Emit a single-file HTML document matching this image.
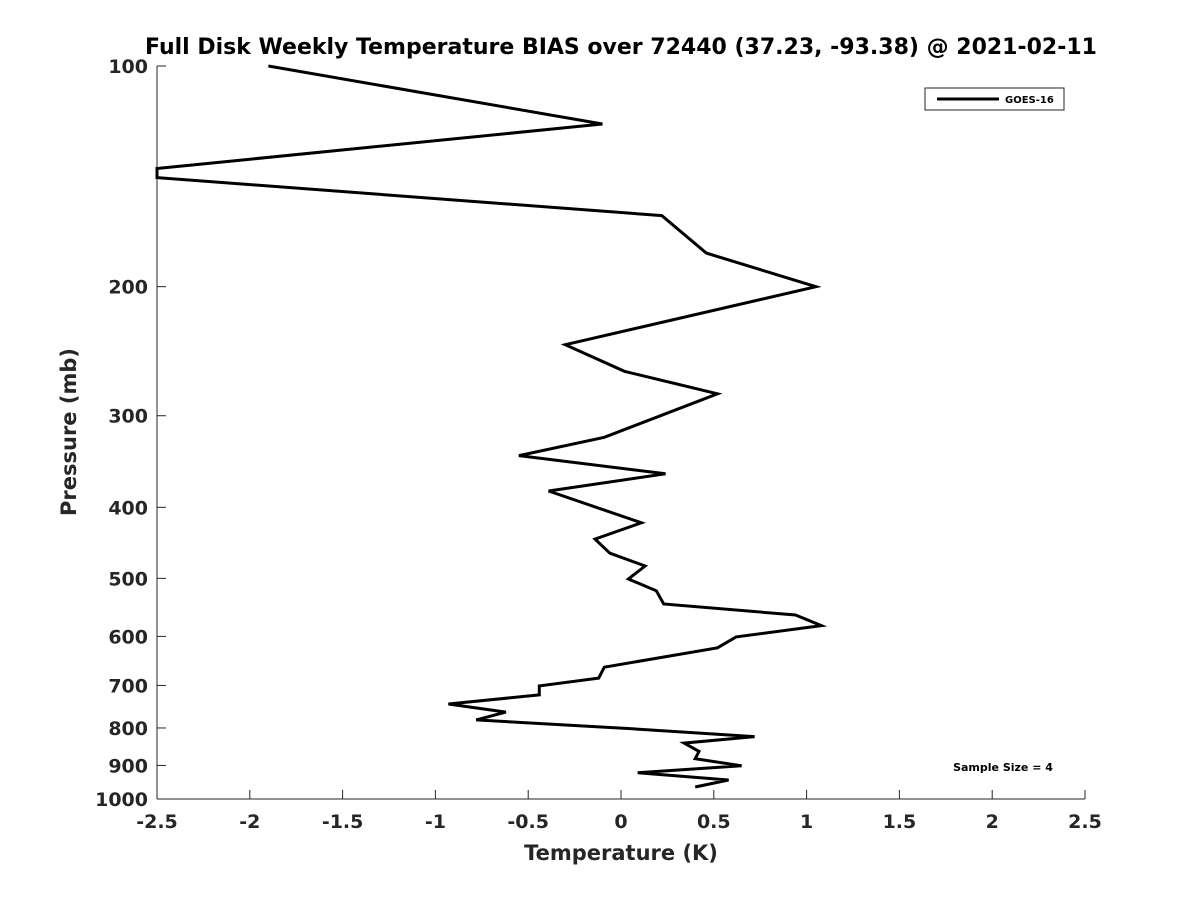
<!DOCTYPE html>
<html><head><meta charset="utf-8"><style>
body{margin:0;background:#fff}
text{font-family:"DejaVu Sans","Liberation Sans",sans-serif;font-weight:bold;fill:#262626}
</style></head><body>
<svg id="c" width="1200" height="900" xmlns="http://www.w3.org/2000/svg">
<rect width="1200" height="900" fill="#fff"/>
<text x="621" y="54" text-anchor="middle" font-size="22" style="fill:#000">Full Disk Weekly Temperature BIAS over 72440 (37.23, -93.38) @ 2021-02-11</text>
<g id="axes"></g>
<g id="series"></g>
<text x="621" y="860" text-anchor="middle" font-size="21">Temperature (K)</text>
<text transform="translate(76,432) rotate(-90)" text-anchor="middle" font-size="21">Pressure (mb)</text>
<g>
<rect x="925" y="88" width="139" height="22" fill="#fff" stroke="#262626" stroke-width="1"/>
<line x1="937" y1="99" x2="999" y2="99" stroke="#000" stroke-width="3"/>
<text x="1005" y="103" font-size="10" style="fill:#000">GOES-16</text>
</g>
<text x="1003" y="771" text-anchor="middle" font-size="11" style="fill:#000">Sample Size = 4</text>
</svg>
<script>
const xTicks=[-2.5,-2,-1.5,-1,-0.5,0,0.5,1,1.5,2,2.5];
const xTickLabels=["-2.5","-2","-1.5","-1","-0.5","0","0.5","1","1.5","2","2.5"];
const yTicks=[100,200,300,400,500,600,700,800,900,1000];
const yTickLabels=["100","200","300","400","500","600","700","800","900","1000"];
const pressures=[100,120,138,142,160,180,200,240,261,280,321,340,360,380,420,442,462,481,501,520,542,561,580,601,622,661,684,701,721,742,761,780,802,822,839,861,881,901,921,942,963];
const biasValues=[-1.90,-0.10,-2.5,-2.5,0.22,0.46,1.05,-0.30,0.02,0.52,-0.09,-0.55,0.24,-0.39,0.11,-0.14,-0.06,0.13,0.04,0.19,0.23,0.94,1.08,0.62,0.52,-0.09,-0.12,-0.44,-0.44,-0.93,-0.62,-0.78,0.06,0.72,0.34,0.42,0.40,0.65,0.09,0.58,0.40];
const L=157,R=1085,T=66,B=799;
const xs=v=>L+(v+2.5)/5*(R-L);
const ys=p=>T+(Math.log10(p)-2)*(B-T);
const NS="http://www.w3.org/2000/svg";
const ax=document.getElementById('axes');
function mk(tag,attrs,parent){const e=document.createElementNS(NS,tag);for(const k in attrs)e.setAttribute(k,attrs[k]);parent.appendChild(e);return e;}
let a=mk('line',{x1:L,y1:B,x2:R,y2:B,stroke:'#262626','stroke-width':1},ax);


a=mk('line',{x1:L,y1:T,x2:L,y2:B,stroke:'#262626','stroke-width':1},ax);


xTicks.forEach((v,i)=>{
 mk('line',{x1:xs(v),y1:B,x2:xs(v),y2:B-9,stroke:'#262626'},ax);
 const t=mk('text',{x:xs(v),y:B+29,'text-anchor':'middle','font-size':19},ax);
 t.textContent=xTickLabels[i];
 
 
});
yTicks.forEach((p,i)=>{
 mk('line',{x1:L,y1:ys(p),x2:L+9,y2:ys(p),stroke:'#262626'},ax);
 const t=mk('text',{x:L-9,y:ys(p)+7,'text-anchor':'end','font-size':19},ax);
 t.textContent=yTickLabels[i];
 
 
});
const pts=pressures.map((p,i)=>xs(biasValues[i]).toFixed(1)+','+ys(p).toFixed(1)).join(' ');
const pl=mk('polyline',{points:pts,fill:'none',stroke:'#000','stroke-width':3,'stroke-linejoin':'miter'},document.getElementById('series'));


</script>
</body></html>
